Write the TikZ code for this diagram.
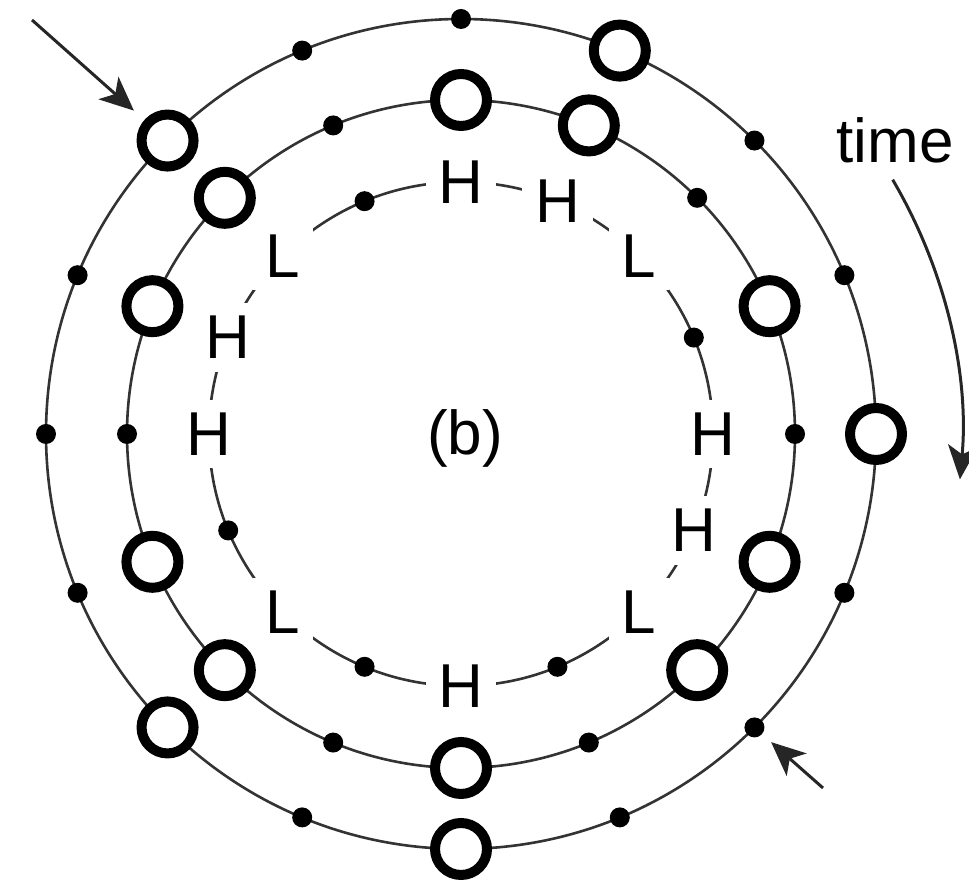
\documentclass[tikz,border=0pt]{standalone}
\usepackage{fontspec}
\setmainfont{Liberation Sans}
\usetikzlibrary{arrows.meta}
\begin{document}
\begin{tikzpicture}[x=1pt,y=1pt,
  ring/.style={draw=black!80, line width=2.6pt},
  bigo/.style={circle, draw=black, fill=white, line width=10pt, minimum size=52pt, inner sep=0pt},
  smalldot/.style={circle, fill=black, minimum size=20pt, inner sep=0pt},
  letter/.style={fill=white, inner sep=13pt, font=\fontsize{62}{62}\selectfont},
  caption/.style={font=\fontsize{62}{62}\selectfont, inner sep=0pt},
  pointer/.style={draw=black!85, line width=3pt, -{Stealth[length=34pt,width=30pt,inset=9pt]}}
]
\useasboundingbox (0,0) rectangle (969,882);
\coordinate (C) at (461,448);
% rings
\draw[ring] (C) circle[radius=415];
\draw[ring] (C) circle[radius=334];
\draw[ring] (C) circle[radius=252];
% outer ring
\foreach \a [count=\i] in {0,67.5,135,225,270}
  \node[bigo] (outO\i) at ([shift={(\a:415)}]C) {};
\foreach \a [count=\i] in {22.5,45,90,112.5,157.5,180,202.5,247.5,292.5,315,337.5}
  \node[smalldot] (outD\i) at ([shift={(\a:415)}]C) {};
% middle ring
\foreach \a [count=\i] in {22.5,67.5,90,135,157.5,202.5,225,270,315,337.5}
  \node[bigo] (midO\i) at ([shift={(\a:334)}]C) {};
\foreach \a [count=\i] in {0,45,112.5,180,247.5,292.5}
  \node[smalldot] (midD\i) at ([shift={(\a:334)}]C) {};
% inner ring
\foreach \a [count=\i] in {22.5,112.5,202.5,247.5,292.5}
  \node[smalldot] (inD\i) at ([shift={(\a:252)}]C) {};
\foreach \a [count=\i] in {0,67.5,90,157.5,180,270,337.5}
  \node[letter] (inH\i) at ([shift={(\a:252)}]C) {H};
\foreach \a [count=\i] in {45,135,225,315}
  \node[letter] (inL\i) at ([shift={(\a:252)}]C) {L};
% labels
\node[caption] (b) at (465,444) {(b)};
\node[caption] (time) at (895,742) {time};
% arrows
\coordinate (tlStart) at (32,862);
\draw[pointer, shorten >=14pt] (tlStart) -- (outO3);
\coordinate (brStart) at (823,94);
\draw[pointer, shorten >=12pt] (brStart) -- (outD10);
\coordinate (timeStart) at ([shift={(30.5:501)}]C);
\draw[pointer] (timeStart) arc[start angle=30.5, end angle=-5.2, radius=501];
\end{tikzpicture}
\end{document}
